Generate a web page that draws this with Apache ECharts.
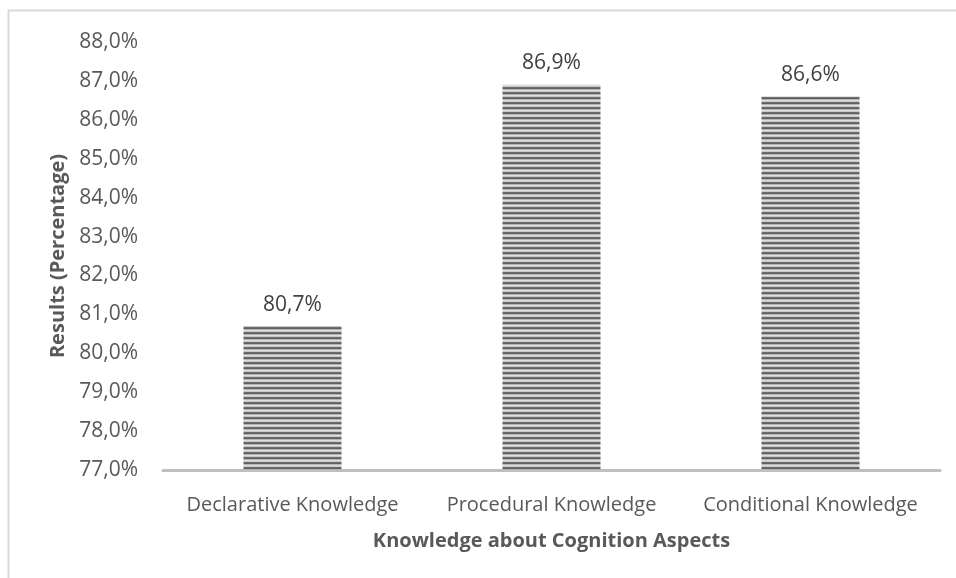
<!DOCTYPE html>
<html><head><meta charset="utf-8">
<script src="https://cdn.jsdelivr.net/npm/echarts@6/dist/echarts.min.js"></script>
<style>html,body{margin:0;padding:0;background:#fff}#c{width:956px;height:578px}</style>
</head><body><div id="c"></div>
<script>
const categories = ['Declarative Knowledge', 'Procedural Knowledge', 'Conditional Knowledge'];
const values = [80.7, 86.9, 86.6];
const yMin = 77, yMax = 88, yStep = 1;

function stripePattern() {
  const c = document.createElement('canvas');
  c.width = 8; c.height = 5;
  const g = c.getContext('2d');
  const rows = ['#dedede', '#c8c8c8', '#6e6e6e', '#5f5f5f', '#b5b5b5'];
  rows.forEach((col, i) => { g.fillStyle = col; g.fillRect(0, i, 8, 1); });
  return c;
}
const fmt = v => v.toFixed(1).replace('.', ',') + '%';
const font = '"Open Sans", "Noto Sans", sans-serif';
const chart = echarts.init(document.getElementById('c'));
chart.setOption({
  animation: false,
  backgroundColor: '#fff',
  graphic: [{ type: 'rect', shape: { x: 8.5, y: 10.5, width: 1000, height: 1000 }, style: { fill: 'none', stroke: '#d9d9d9', lineWidth: 2 } }],
  grid: { left: 163, right: 16, top: 42, bottom: 108 },
  xAxis: {
    type: 'category', data: categories,
    name: 'Knowledge about Cognition Aspects', nameLocation: 'middle', nameGap: 61,
    nameTextStyle: { fontFamily: font, fontSize: 20, fontWeight: 'bold', color: '#595959' },
    axisLine: { lineStyle: { color: '#bfbfbf', width: 3 } },
    axisTick: { show: false },
    axisLabel: { fontFamily: font, fontSize: 20, color: '#595959', margin: 25, interval: 0, hideOverlap: false }
  },
  yAxis: {
    type: 'value', min: yMin, max: yMax, interval: yStep,
    name: 'Results (Percentage)', nameLocation: 'middle', nameGap: 83,
    nameTextStyle: { fontFamily: font, fontSize: 20, fontWeight: 'bold', color: '#595959' },
    axisLine: { show: false }, axisTick: { show: false }, splitLine: { show: false },
    axisLabel: { fontFamily: font, fontSize: 21, color: '#595959', margin: 25, formatter: fmt }
  },
  series: [{
    type: 'bar', data: values, barWidth: 98,
    itemStyle: { color: { image: stripePattern(), repeat: 'repeat' } },
    label: { show: true, position: 'top', distance: 11, fontFamily: font, fontSize: 21, color: '#404040', formatter: p => fmt(p.value) }
  }]
});
</script></body></html>
